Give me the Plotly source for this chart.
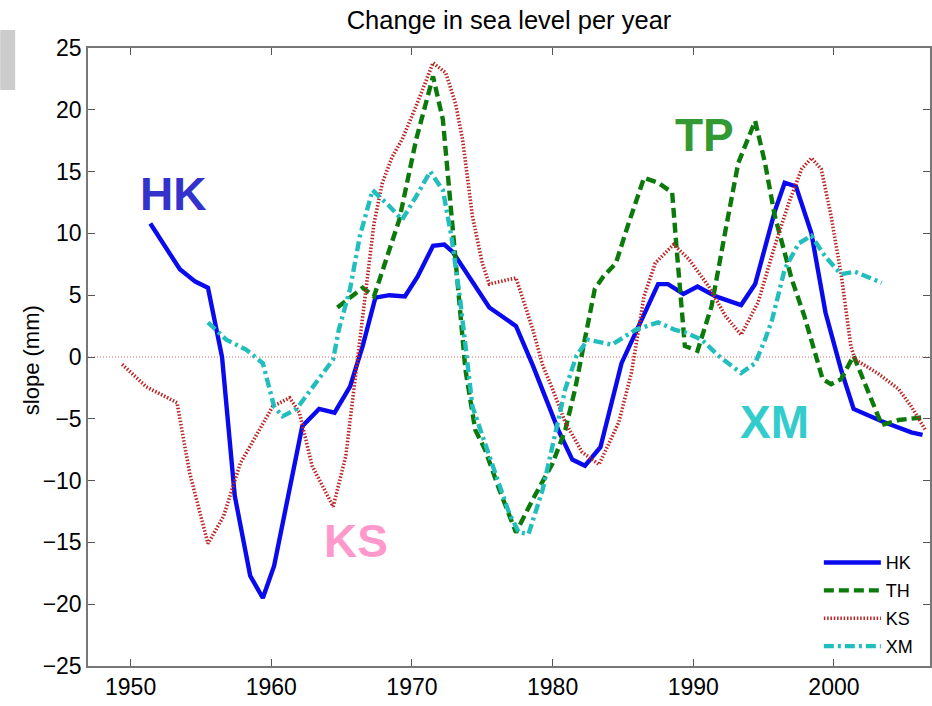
import plotly.graph_objects as go

# ---- data ----
hk_year = [1951.4, 1953.5, 1954.6, 1955.5, 1956.5, 1957.4, 1958.5, 1959.4, 1960.2, 1962.2,
           1963.4, 1964.5, 1965.6, 1966.5, 1967.4, 1968.4, 1969.5, 1970.4, 1971.5, 1972.3,
           1972.9, 1975.5, 1977.4, 1978.6, 1980.4, 1981.4, 1982.3, 1983.4, 1984.9, 1986.1,
           1987.5, 1988.2, 1989.3, 1990.3, 1991.6, 1993.4, 1994.4, 1995.8, 1996.5, 1997.3,
           1998.4, 1999.4, 2000.5, 2001.4, 2003.4, 2005.5, 2006.3]
hk_val = [10.8, 7.1, 6.1, 5.6, 0.0, -11.2, -17.7, -19.5, -16.9, -5.6,
          -4.2, -4.5, -2.4, 0.9, 4.8, 5.0, 4.9, 6.5, 9.0, 9.1,
          8.5, 4.0, 2.5, -0.7, -5.9, -8.3, -8.8, -7.3, -0.5, 2.5,
          5.9, 5.9, 5.1, 5.7, 4.9, 4.2, 5.9, 11.8, 14.1, 13.8,
          10.0, 3.6, -1.0, -4.2, -5.2, -6.1, -6.3]

th_year = [1964.7, 1966.5, 1967.3, 1969.1, 1970.3, 1971.5, 1972.2, 1972.9, 1973.4, 1973.8,
           1974.5, 1975.2, 1976.2, 1977.4, 1978.6, 1980.0, 1980.9, 1981.6, 1982.2, 1983.0,
           1983.6, 1984.5, 1985.4, 1986.5, 1987.5, 1988.5, 1988.8, 1989.1, 1989.4, 1990.3,
           1991.3, 1992.3, 1993.2, 1994.4, 1995.1, 1995.8, 1997.0, 1997.9, 1998.9, 1999.2,
           1999.8, 2000.5, 2001.4, 2002.4, 2003.4, 2004.6, 2006.2]
th_val = [4.0, 5.6, 4.9, 11.1, 17.6, 22.7, 19.2, 10.3, 4.4, -1.0,
          -5.9, -7.5, -10.7, -14.2, -11.5, -8.6, -5.9, -2.6, 0.9, 5.5,
          6.5, 7.6, 10.8, 14.5, 14.1, 13.3, 9.0, 4.4, 0.9, 0.5,
          4.1, 10.3, 15.7, 19.1, 15.7, 11.4, 6.3, 3.3, -0.5, -1.8,
          -2.2, -1.8, 0.1, -2.6, -5.5, -5.1, -4.9]

ks_year = [1949.4, 1951.1, 1953.3, 1954.2, 1955.5, 1956.6, 1957.8, 1958.9, 1960.1, 1961.3,
           1962.0, 1962.9, 1964.4, 1965.3, 1966.0, 1966.4, 1967.3, 1967.9, 1968.6, 1969.3,
           1970.3, 1971.5, 1972.4, 1973.1, 1973.6, 1974.3, 1975.0, 1975.5, 1977.4, 1978.6,
           1979.3, 1980.0, 1980.9, 1982.1, 1983.3, 1984.7, 1985.6, 1986.5, 1987.3, 1988.6,
           1989.7, 1991.1, 1992.3, 1993.4, 1994.6, 1995.8, 1996.8, 1997.7, 1998.4, 1999.1,
           1999.8, 2000.5, 2001.2, 2001.5, 2003.1, 2004.6, 2005.5, 2006.5]
ks_val = [-0.6, -2.4, -3.7, -9.4, -15.1, -12.9, -8.6, -6.4, -4.0, -3.3,
          -4.5, -8.8, -12.1, -8.0, -1.3, 2.2, 10.8, 14.1, 16.2, 17.6,
          20.3, 23.8, 23.0, 20.5, 17.6, 11.4, 7.6, 5.9, 6.4, 2.2,
          -0.7, -2.6, -5.3, -7.7, -8.7, -5.3, -1.3, 4.9, 7.6, 9.1,
          7.9, 5.7, 3.3, 1.8, 4.4, 9.0, 12.5, 15.2, 16.1, 15.2,
          11.4, 6.8, 0.9, -0.2, -1.3, -2.6, -4.0, -5.9]

xm_year = [1955.5, 1956.8, 1958.2, 1959.4, 1960.2, 1960.8, 1961.8, 1963.0, 1964.4, 1964.8,
           1965.6, 1966.3, 1967.2, 1968.4, 1969.3, 1970.3, 1971.3, 1972.2, 1972.8, 1973.4,
           1973.9, 1974.3, 1975.5, 1976.9, 1977.6, 1978.3, 1979.3, 1980.2, 1980.9, 1981.7,
           1982.5, 1984.2, 1985.9, 1987.5, 1988.7, 1989.4, 1990.6, 1991.8, 1993.4, 1994.4,
           1995.1, 1995.6, 1996.5, 1997.5, 1998.4, 1999.4, 2000.5, 2001.5, 2002.4, 2003.4]
xm_val = [2.8, 1.4, 0.6, -0.5, -4.0, -4.8, -4.2, -2.4, -0.2, 2.2,
          5.5, 9.8, 13.5, 12.2, 11.1, 13.0, 15.0, 13.5, 9.8, 4.9,
          -0.2, -4.0, -8.0, -12.6, -14.2, -14.3, -10.7, -6.1, -2.6, 0.1,
          1.4, 1.0, 2.2, 2.8, 2.2, 2.0, 1.4, 0.1, -1.3, -0.5,
          1.4, 3.0, 7.1, 9.2, 9.8, 8.1, 6.7, 6.9, 6.5, 6.0]

series_names = ["HK", "TH", "KS", "XM"]
x_ticks = [1950, 1960, 1970, 1980, 1990, 2000]
y_ticks = [-25, -20, -15, -10, -5, 0, 5, 10, 15, 20, 25]

labels = ["HK", "TP", "KS", "XM"]
label_x = [1953.0, 1990.8, 1966.0, 1995.8]
label_y = [13.2, 18.0, -14.9, -5.25]
label_colors = ["#3333cc", "#339933", "#ff99cc", "#33cccc"]

FONT = "Liberation Sans, Arial, Helvetica, sans-serif"

fig = go.Figure()

styles = [
    dict(color="#0a0aee", width=4.4, dash="solid"),
    dict(color="#0b7a0b", width=4.4, dash="10px,5px"),
    dict(color="#bb2525", width=3.6, dash="1.5px,1.8px"),
    dict(color="#22bdbd", width=4.4, dash="10px,4px,3px,4px"),
]
data = [(hk_year, hk_val), (th_year, th_val), (ks_year, ks_val), (xm_year, xm_val)]
for name, (xs, ys), st in zip(series_names, data, styles):
    fig.add_trace(go.Scatter(x=xs, y=ys, mode="lines", name=name, legendgroup=name,
                             line=st))

# zero reference line
fig.add_shape(type="line", xref="paper", yref="y", x0=0, x1=1, y0=0, y1=0,
              line=dict(color="#dd6666", width=1, dash="1px,2px"), layer="below")

for t, lx, ly, c in zip(labels, label_x, label_y, label_colors):
    fig.add_annotation(x=lx, y=ly, xref="x", yref="y", text="<b>%s</b>" % t,
                       showarrow=False, font=dict(family=FONT, size=46, color=c))

# y-axis title
fig.add_annotation(x=(31 - 88) / 844, y=0.495, xref="paper", yref="paper", text="slope (mm)",
                   textangle=-90, showarrow=False, xanchor="center", yanchor="middle",
                   font=dict(family=FONT, size=22, color="black"))

# gray block at top-left corner
fig.add_shape(type="rect", xref="paper", yref="paper",
              x0=(0 - 88) / 844, x1=(15 - 88) / 844,
              y0=(666 - 90) / 618, y1=(666 - 30) / 618,
              fillcolor="#cccccc", line=dict(width=0))

axis_common = dict(showgrid=False, zeroline=False, showline=True, linecolor="#777777",
                   linewidth=1.5, mirror="ticks", ticks="inside", ticklen=7,
                   tickcolor="#555555", tickwidth=1,
                   tickfont=dict(family=FONT, size=23, color="black"))

fig.update_layout(
    width=932, height=706,
    margin=dict(l=88, r=0, t=48, b=40),
    paper_bgcolor="white", plot_bgcolor="white",
    title=dict(text="Change in sea level per year", x=0.5, xref="paper",
               y=1 - 20 / 706, yref="container", yanchor="middle", xanchor="center",
               font=dict(family=FONT, size=25.5, color="black")),
    xaxis=dict(range=[1946.97, 2006.83], tickvals=x_ticks, **axis_common),
    yaxis=dict(range=[-25, 25], tickvals=y_ticks, **axis_common),
    legend=dict(x=0.868, y=0.197, xanchor="left", yanchor="top",
                bgcolor="rgba(255,255,255,0)", borderwidth=0,
                font=dict(family=FONT, size=18, color="black"),
                itemwidth=57, tracegroupgap=1.5),
    showlegend=True,
)

fig.write_html("out.html")
